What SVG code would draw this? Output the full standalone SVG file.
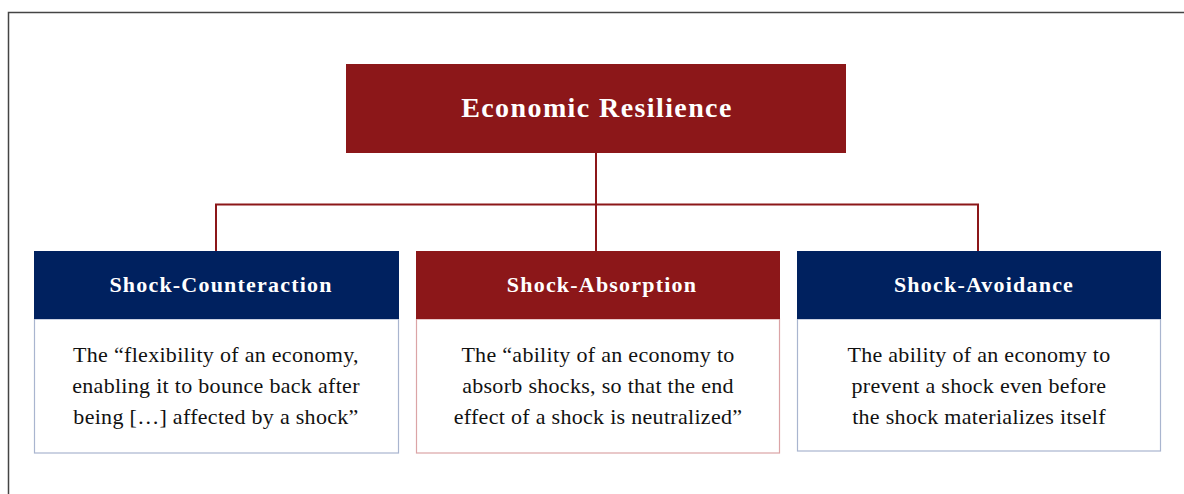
<svg xmlns="http://www.w3.org/2000/svg" width="1184" height="494" viewBox="0 0 1184 494">
  <style>
    .title { font-family: "Liberation Serif", "DejaVu Serif", serif; font-weight: bold; fill: #ffffff; text-anchor: middle; }
    .root-title { font-size: 28px; letter-spacing: 1.4px; }
    .head { font-size: 22px; letter-spacing: 1.2px; }
    .body { font-family: "Liberation Serif", "DejaVu Serif", serif; font-size: 22px; letter-spacing: 0.3px; fill: #111111; text-anchor: middle; }
    .red { fill: #8c1719; }
    .navy { fill: #00215f; }
    .card-blue { fill: #ffffff; stroke: #a9b5cf; stroke-width: 1.2; }
    .card-red { fill: #ffffff; stroke: #dba4a6; stroke-width: 1.2; }
    .link { fill: none; stroke: #8c1719; stroke-width: 2; }
  </style>

  <rect x="0" y="0" width="1184" height="494" fill="#ffffff"/>
  <!-- outer frame -->
  <path d="M8.5 494 V12.5 H1184" fill="none" stroke="#444444" stroke-width="1.5"/>

  <!-- tree connectors -->
  <g id="connectors">
    <path class="link" d="M596 153 V251"/>
    <path class="link" d="M216 251 V204.5 H978 V251"/>
  </g>

  <g id="root">
    <rect class="red" x="346" y="64" width="500" height="89"/>
    <text class="title root-title" x="597" y="117">Economic Resilience</text>
  </g>

  <g id="counteraction">
    <rect class="card-blue" x="34.5" y="319" width="364" height="134"/>
    <rect class="navy" x="34" y="251" width="365" height="68"/>
    <text class="title head" x="221" y="292">Shock-Counteraction</text>
    <text class="body" x="216" y="362">The “flexibility of an economy,</text>
    <text class="body" x="216" y="393">enabling it to bounce back after</text>
    <text class="body" x="216" y="424">being […] affected by a shock”</text>
  </g>

  <g id="absorption">
    <rect class="card-red" x="416.5" y="319" width="363" height="134"/>
    <rect class="red" x="416" y="251" width="364" height="68"/>
    <text class="title head" x="602" y="292">Shock-Absorption</text>
    <text class="body" x="598" y="362">The “ability of an economy to</text>
    <text class="body" x="598" y="393">absorb shocks, so that the end</text>
    <text class="body" x="598" y="424">effect of a shock is neutralized”</text>
  </g>

  <g id="avoidance">
    <rect class="card-blue" x="797.5" y="319" width="363" height="132"/>
    <rect class="navy" x="797" y="251" width="364" height="68"/>
    <text class="title head" x="984" y="292">Shock-Avoidance</text>
    <text class="body" x="979" y="362">The ability of an economy to</text>
    <text class="body" x="979" y="393">prevent a shock even before</text>
    <text class="body" x="979" y="424">the shock materializes itself</text>
  </g>
</svg>
